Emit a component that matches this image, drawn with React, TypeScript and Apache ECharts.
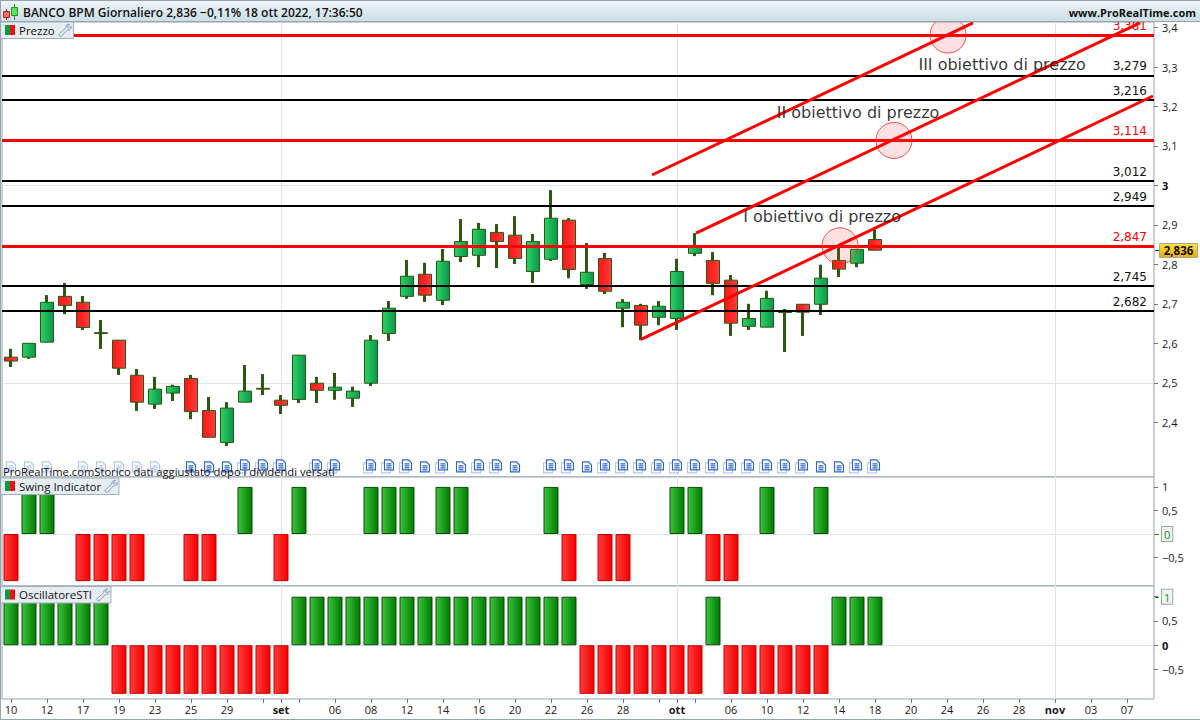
import React, { useEffect, useRef } from "react";
import * as echarts from "echarts";

const FONT = '"Open Sans", "DejaVu Sans", sans-serif';
const WIDE_FONT = '"DejaVu Sans", "Open Sans", sans-serif';

// Trading days of the visible window (the last ones are the empty future part of the axis)
const dayLabels = [
  "10","11","12","16","17","18","19","22","23","24","25","26","29","30","31","set",
  "02","05","06","07","08","09","12","13","14","15","16","19","20","21","22","23",
  "26","27","28","29","30","ott","04","05","06","07","10","11","12","13","14","17",
  "18","19","20","21","24","25","26","27","28","31","nov","02","03","04","07","08",
];
const labelledDays = [0,2,4,6,8,10,12,15,18,20,22,24,26,28,30,32,34,37,40,42,44,46,48,50,52,54,56,58,60,62];
const monthDays = [15, 37, 58];

const opens = [
  2.565,2.565,2.603,2.719,2.704,2.627,2.608,2.519,2.446,2.474,2.511,2.430,2.349,2.451,2.486,2.456,
  2.458,2.499,2.481,2.461,2.499,2.625,2.719,2.775,2.709,2.820,2.823,2.881,2.874,2.782,2.813,2.912,
  2.749,2.815,2.689,2.696,2.666,2.663,2.828,2.810,2.760,2.643,2.641,2.680,2.699,2.699,2.810,2.803,2.863,
];
const closes = [
  2.555,2.600,2.704,2.696,2.640,2.625,2.537,2.451,2.484,2.491,2.427,2.362,2.436,2.479,2.484,2.443,
  2.570,2.481,2.489,2.479,2.608,2.689,2.770,2.722,2.808,2.858,2.889,2.858,2.815,2.858,2.917,2.787,
  2.780,2.732,2.704,2.646,2.694,2.782,2.846,2.752,2.651,2.663,2.714,2.678,2.679,2.765,2.788,2.838,2.836,
];
const lows = [
  2.540,2.561,2.603,2.674,2.634,2.586,2.520,2.429,2.434,2.454,2.408,2.362,2.340,2.451,2.469,2.421,
  2.449,2.449,2.457,2.439,2.492,2.606,2.713,2.705,2.697,2.806,2.793,2.791,2.801,2.753,2.809,2.765,
  2.738,2.725,2.641,2.608,2.646,2.634,2.821,2.722,2.619,2.634,2.641,2.578,2.619,2.672,2.768,2.793,2.836,
];
const highs = [
  2.586,2.600,2.722,2.753,2.720,2.659,2.608,2.535,2.515,2.495,2.520,2.464,2.451,2.545,2.522,2.469,
  2.570,2.515,2.525,2.490,2.621,2.707,2.811,2.804,2.839,2.915,2.905,2.902,2.922,2.877,2.988,2.917,
  2.854,2.829,2.712,2.700,2.707,2.814,2.879,2.831,2.773,2.700,2.733,2.687,2.699,2.799,2.845,2.838,2.889,
];

const swingValues = [
  -1,1,1,0,-1,-1,-1,-1,0,0,-1,-1,0,1,0,-1,1,0,0,0,1,1,1,0,1,1,0,0,0,0,1,-1,0,-1,-1,0,0,1,1,-1,-1,0,1,0,0,1,0,0,0,
];
const stiValues = [
  1,1,1,1,1,1,-1,-1,-1,-1,-1,-1,-1,-1,-1,-1,1,1,1,1,1,1,1,1,1,1,1,1,1,1,1,1,-1,-1,-1,-1,-1,-1,-1,1,-1,-1,-1,-1,-1,-1,1,1,1,
];

const redLevels = [3.381, 3.114, 2.847];
const blackLevels = [3.279, 3.216, 3.012, 2.949, 2.745, 2.682];

const channelLow = [[35, 2.61], [63.44, 3.2265]];
const channelMid = [[38.06, 2.879], [62.72, 3.412]];
const channelHigh = [[35.61, 3.0264], [53.44, 3.412]];
const targetPoints = [[46.06, 2.847], [49.05, 3.114], [52.06, 3.381]];
const targetNotes = [
  { name: "I obiettivo di prezzo", value: [45.06, 2.9225] },
  { name: "II obiettivo di prezzo", value: [47.06, 3.186] },
  { name: "III obiettivo di prezzo", value: [55.06, 3.3075] },
];

const dividendFaded = [0, 1, 2, 4, 5, 6, 7, 8];
const dividendSingle = [10, 11, 12, 23, 25, 28, 32, 45, 46];
const dividendDouble = [13, 14, 15, 17, 18, 20, 21, 22, 24, 26, 27, 30, 31, 33, 34, 35, 36, 37, 38, 39, 40, 41, 42, 43, 44, 47, 48];
const dividendLevel = 2.2868;

const priceTicks = [2.4, 2.5, 2.6, 2.7, 2.8, 2.9, 3, 3.1, 3.2, 3.3, 3.4];
const oscTicks = [-0.5, 0, 0.5, 1];

const docPath = "path://M0 0H6L9 3V10H0ZM2 4H7M2 6H7M2 8H7";
const sheetPath = "path://M0 0H9V10H0Z";

const WRENCH =
  "M13 1C10.5 0.3 8.3 2.4 8.8 5L1.4 11.6C0.2 13 2.2 15.4 4 14L10.6 7C13.2 7.6 15.4 5.4 14.6 3L12.5 5L10.8 4.6L10.6 3Z";
echarts.graphic.registerShape("wrench", echarts.graphic.extendPath(WRENCH, {}) as any);

const hGrad = (a: string, b: string) =>
  new echarts.graphic.LinearGradient(0, 0, 1, 0, [
    { offset: 0, color: a },
    { offset: 1, color: b },
  ]);
const vGrad = (a: string, b: string) =>
  new echarts.graphic.LinearGradient(0, 0, 0, 1, [
    { offset: 0, color: a },
    { offset: 1, color: b },
  ]);

const comma = (v: number, d?: number) =>
  (d === undefined ? String(Number(v.toFixed(3))) : v.toFixed(d)).replace(".", ",").replace("-", "\u2212");

const levelLine = (v: number, color: string, width: number) => ({
  yAxis: v,
  lineStyle: { color, width, type: "solid" },
  label: {
    show: true,
    position: "insideEndTop",
    distance: 3,
    formatter: () => comma(v, 3),
    color: color === "#000000" ? "#111111" : "#ff0000",
    fontFamily: WIDE_FONT,
    fontSize: 12,
    padding: [0, 4, 0, 0],
  },
});

const catAxis = (gridIndex: number, visible: boolean) => ({
  type: "category",
  gridIndex,
  data: dayLabels,
  boundaryGap: true,
  axisLine: { show: false, onZero: false },
  splitLine: { show: false },
  axisTick: visible
    ? {
        show: true,
        alignWithLabel: true,
        length: 4,
        lineStyle: { color: "#6c7a82" },
        interval: (i: number) => i % 2 === 0 || monthDays.includes(i),
      }
    : { show: false },
  axisLabel: visible
    ? {
        show: true,
        margin: 5,
        interval: (i: number) => labelledDays.includes(i),
        fontFamily: FONT,
        fontSize: 11,
        color: "#1a1a1a",
        formatter: (v: string, i: number) => (monthDays.includes(i) ? `{b|${v}}` : v),
        rich: { b: { fontFamily: FONT, fontSize: 11, fontWeight: "bold", color: "#1a1a1a" } },
      }
    : { show: false },
});

const valAxis = (gridIndex: number) => ({
  type: "value",
  gridIndex,
  min: -0.5,
  max: 63.5,
  show: false,
  axisLine: { onZero: false },
  splitLine: { show: false },
});

const boxStyle = { color: "#0a9a0a", backgroundColor: "#f1f3f3", borderColor: "#9aa8ae", borderWidth: 1, padding: [2, 2, 1, 2], fontFamily: FONT, fontSize: 11 };

const yAxisOf = (gridIndex: number, min: number, max: number, ticks: number[], fmt: (v: number) => string, rich: any) => ({
  type: "value",
  gridIndex,
  position: "right",
  min,
  max,
  scale: true,
  splitLine: { show: false },
  axisLine: { show: false, onZero: false },
  axisTick: { show: true, length: 4, customValues: ticks, lineStyle: { color: "#6c7a82" } },
  axisLabel: {
    show: true,
    margin: 8,
    customValues: ticks,
    fontFamily: FONT,
    fontSize: 11,
    color: "#1a1a1a",
    formatter: fmt,
    rich,
  },
});

const gridSeries = (idx: number, hLines: number[]) => ({
  type: "line",
  name: "griglia" + idx,
  xAxisIndex: 3 + idx,
  yAxisIndex: idx,
  data: [],
  z: 1,
  silent: true,
  markLine: {
    silent: true,
    symbol: "none",
    z: 1,
    precision: 4,
    label: { show: false },
    lineStyle: { color: "#dfe2ea", width: 1, type: "solid" },
    data: [...monthDays.map((d) => ({ xAxis: d })), ...hLines.map((v) => ({ yAxis: v }))],
  },
});

const oscBars = (name: string, idx: number, values: number[]) => ({
  type: "bar",
  name,
  xAxisIndex: idx,
  yAxisIndex: idx,
  barWidth: 15,
  z: 3,
  data: values.map((v) =>
    v === 0
      ? null
      : {
          value: v,
          itemStyle:
            v > 0
              ? { color: hGrad("#3cc43c", "#007a00"), borderColor: "#0b4d0b", borderWidth: 1 }
              : { color: hGrad("#ff3c3c", "#f20000"), borderColor: "#c80000", borderWidth: 1 },
        },
  ),
});

const dividendSeries = (name: string, list: number[], symbol: string, color: string, fill: string, offset: number[], z: number) => ({
  type: "scatter",
  name,
  xAxisIndex: 0,
  yAxisIndex: 0,
  symbol,
  symbolSize: [9, 10],
  symbolOffset: offset,
  z,
  silent: true,
  itemStyle: { color: fill, borderColor: color, borderWidth: 1.2, opacity: 1 },
  data: list.map((i) => [i, dividendLevel]),
});

const trend = (name: string, pts: number[][]) => ({
  type: "line",
  name,
  xAxisIndex: 3,
  yAxisIndex: 0,
  data: pts,
  showSymbol: false,
  symbol: "none",
  z: 6,
  silent: true,
  lineStyle: { color: "#ff0000", width: 3 },
});

const candles = opens.map((o, i) => [o, closes[i], lows[i], highs[i]]);

const txt = (x: number, y: number, text: string, font: string, fill = "#111111", align = "left") => ({
  type: "text",
  z: 101,
  x,
  y,
  style: { text, font, fill, align, verticalAlign: "middle" },
});
const rect = (x: number, y: number, w: number, h: number, fill: any, stroke?: string, z = 100) => ({
  type: "rect",
  z,
  shape: { x, y, width: w, height: h },
  style: { fill, stroke: stroke || "none", lineWidth: stroke ? 1 : 0 },
});
const legendBox = (y: number, w: number, label: string, wx: number) => [
  rect(0.5, y + 0.5, w, 16.5, "#e6edf1", "#9fb0ba"),
  rect(5, y + 3.5, 5, 10, "#0a9a45", undefined, 101),
  rect(10, y + 3.5, 5, 10, "#f01010", undefined, 101),
  txt(19, y + 8.5, label, `11.5px ${FONT}`),
  {
    type: "wrench",
    z: 101,
    x: wx,
    y: y + 2,
    scaleX: 0.9,
    scaleY: 0.9,
    style: { fill: "none", stroke: "#7b97b4", lineWidth: 1 },
  },
];

const graphics: any[] = [
  rect(0, 0, 1200, 22, vGrad("#eef6f8", "#ccdde4")),
  { type: "line", z: 101, shape: { x1: 0, y1: 0.5, x2: 1200, y2: 0.5 }, style: { stroke: "#93a5ad", lineWidth: 1 } },
  { type: "line", z: 101, shape: { x1: 0, y1: 21.5, x2: 1200, y2: 21.5 }, style: { stroke: "#93a5ad", lineWidth: 1 } },
  { type: "line", z: 101, shape: { x1: 0.5, y1: 0, x2: 0.5, y2: 720 }, style: { stroke: "#93a5ad", lineWidth: 1 } },
  { type: "line", z: 101, shape: { x1: 0, y1: 719.5, x2: 1200, y2: 719.5 }, style: { stroke: "#93a5ad", lineWidth: 1 } },
  // candle icon of the title bar
  { type: "line", z: 101, shape: { x1: 6.5, y1: 9, x2: 6.5, y2: 20 }, style: { stroke: "#c02020", lineWidth: 1 } },
  rect(3.5, 11.5, 6, 6, "#f07070", "#c02020", 102),
  { type: "line", z: 101, shape: { x1: 14.5, y1: 4, x2: 14.5, y2: 20 }, style: { stroke: "#1f9a1f", lineWidth: 1 } },
  rect(11.5, 7.5, 6, 8, "#60e060", "#1f9a1f", 102),
  txt(23, 12, "BANCO BPM Giornaliero 2,836 \u22120,11% 18 ott 2022, 17:36:50", `600 12px ${FONT}`),
  txt(1196, 12, "www.ProRealTime.com", `bold 11px ${FONT}`, "#111111", "right"),
  ...legendBox(21.5, 73, "Prezzo", 58),
  ...legendBox(477.5, 118.5, "Swing Indicator", 104),
  ...legendBox(586, 110.5, "OscillatoreSTI", 96),
  txt(3, 471, "ProRealTime.comStorico dati aggiustato dopo i dividendi versati", `11.2px ${FONT}`),
  // last price flag
  { type: "line", z: 101, shape: { x1: 1155, y1: 250.5, x2: 1159, y2: 250.5 }, style: { stroke: "#333333", lineWidth: 1 } },
  rect(1159.5, 243.5, 38, 14, vGrad("#ffdf45", "#e9ae00"), "#a0a8a0"),
  txt(1178.5, 250.5, "2,836", `bold 11.5px ${FONT}`, "#111111", "center"),
  // green ticks of the current indicator values
  { type: "line", z: 101, shape: { x1: 1155, y1: 534.5, x2: 1159, y2: 534.5 }, style: { stroke: "#0a9a0a", lineWidth: 1 } },
  { type: "line", z: 101, shape: { x1: 1155, y1: 597.5, x2: 1159, y2: 597.5 }, style: { stroke: "#0a9a0a", lineWidth: 1 } },
];

const option: any = {
  animation: false,
  backgroundColor: "#ffffff",
  textStyle: { fontFamily: FONT },
  grid: [
    { left: 2, width: 1152, top: 22, height: 455, show: true, backgroundColor: "#fff", borderColor: "#93a3ab", borderWidth: 1 },
    { left: 2, width: 1152, top: 477, height: 109, show: true, backgroundColor: "#fff", borderColor: "#93a3ab", borderWidth: 1 },
    { left: 2, width: 1152, top: 586, height: 113, show: true, backgroundColor: "#fff", borderColor: "#93a3ab", borderWidth: 1 },
  ],
  xAxis: [catAxis(0, false), catAxis(1, false), catAxis(2, true), valAxis(0), valAxis(1), valAxis(2)],
  yAxis: [
    yAxisOf(0, 2.2614, 3.414, priceTicks, (v: number) => (v === 3 ? "{b|3}" : comma(v, 1)), {
      b: { fontFamily: FONT, fontSize: 11, fontWeight: "bold", color: "#111" },
    }),
    yAxisOf(1, -1.103, 1.21, oscTicks, (v: number) => (v === 0 ? "{box|0}" : comma(v)), { box: boxStyle }),
    yAxisOf(2, -1.107, 1.22, oscTicks, (v: number) => (v === 1 ? "{box|1}" : v === 0 ? "{b|0}" : comma(v)), {
      box: boxStyle,
      b: { fontFamily: FONT, fontSize: 11, fontWeight: "bold", color: "#111" },
    }),
  ],
  graphic: { elements: graphics },
  series: [
    gridSeries(0, [3, 2.5]),
    gridSeries(1, [0]),
    gridSeries(2, [0]),
    {
      type: "candlestick",
      name: "Ombre",
      xAxisIndex: 0,
      yAxisIndex: 0,
      barWidth: 1,
      z: 3,
      silent: true,
      itemStyle: {
        color: "#2a5a10",
        color0: "#2a5a10",
        borderColor: "#2a5a10",
        borderColor0: "#2a5a10",
        borderColorDoji: "#2a5a10",
        borderWidth: 3,
      },
      data: candles,
    },
    {
      type: "candlestick",
      name: "Prezzo",
      xAxisIndex: 0,
      yAxisIndex: 0,
      barWidth: 13,
      z: 4,
      itemStyle: {
        color: hGrad("#2ed265", "#0a964a"),
        color0: hGrad("#ff1414", "#ff3c3c"),
        borderColor: "#2a5a10",
        borderColor0: "#2a5a10",
        borderColorDoji: "#2a5a10",
        borderWidth: 1,
      },
      data: candles,
      markLine: {
        silent: true,
        symbol: "none",
        z: 5,
        precision: 4,
        data: [
          ...blackLevels.map((v) => levelLine(v, "#000000", 2)),
          ...redLevels.map((v) => levelLine(v, "#ff0000", 3)),
        ],
      },
    },
    oscBars("Swing Indicator", 1, swingValues),
    oscBars("OscillatoreSTI", 2, stiValues),
    dividendSeries("Dividendi storici", dividendFaded, docPath, "#b4c8ec", "#ffffff", [0, 0], 7),
    dividendSeries("Dividendi", dividendSingle, docPath, "#2f66cc", "#ffffff", [0, 0], 7),
    dividendSeries("Dividendi retro", dividendDouble, sheetPath, "#b4c8ec", "#ffffff", [-3, 1], 7),
    dividendSeries("Dividendi doppi", dividendDouble, docPath, "#2f66cc", "#ffffff", [0, -2], 8),
    {
      type: "scatter",
      name: "Obiettivi",
      xAxisIndex: 3,
      yAxisIndex: 0,
      symbolSize: 36,
      z: 5,
      silent: true,
      itemStyle: { color: "rgba(255,60,60,0.2)", borderColor: "#ff2020", borderWidth: 1 },
      data: targetPoints,
    },
    trend("Canale basso", channelLow),
    trend("Canale medio", channelMid),
    trend("Canale alto", channelHigh),
    {
      type: "scatter",
      name: "Note",
      xAxisIndex: 3,
      yAxisIndex: 0,
      symbolSize: 1,
      z: 7,
      silent: true,
      itemStyle: { color: "rgba(0,0,0,0)" },
      label: {
        show: true,
        position: "inside",
        formatter: "{b}",
        fontFamily: WIDE_FONT,
        fontSize: 16,
        color: "#000000",
      },
      data: targetNotes,
    },
  ],
};

export default function App() {
  const ref = useRef<HTMLDivElement>(null);
  useEffect(() => {
    document.body.style.margin = "0";
    const chart = echarts.init(ref.current!, null, { renderer: "svg" });
    chart.setOption(option);
    return () => chart.dispose();
  }, []);
  return <div ref={ref} style={{ width: 1200, height: 720 }} />;
}
